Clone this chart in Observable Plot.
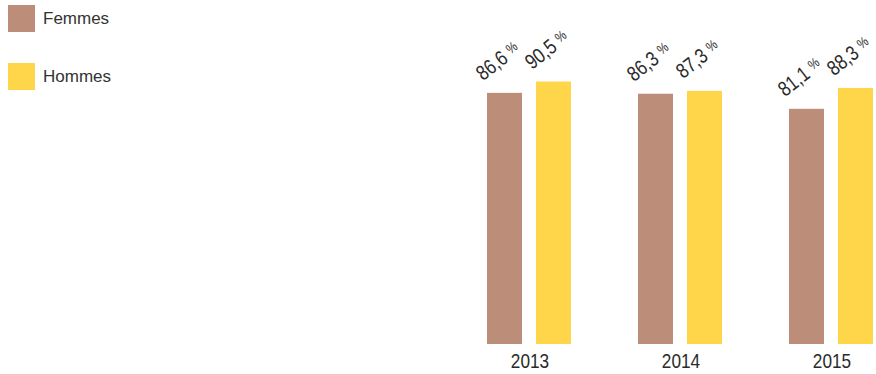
<!DOCTYPE html>
<html><head><meta charset="utf-8">
<script src="https://cdn.jsdelivr.net/npm/d3@7"></script>
<script src="https://cdn.jsdelivr.net/npm/@observablehq/plot@0.6"></script>
<style>
body{margin:0;background:#fff;font-family:"Liberation Sans",Arial,sans-serif;color:#333}
#wrap{position:relative;width:876px;height:374px}
.sw{position:absolute;left:8px;width:27px;height:27px}
.lt{position:absolute;left:43px;font-size:17px;line-height:27px;color:#333}
</style></head>
<body><div id="wrap"></div>
<script>
const years = ["2013", "2014", "2015"];
const groups = ["Femmes", "Hommes"];
const colors = ["#BC8E79", "#FFD54A"];
const femmes = [86.6, 86.3, 81.1];
const hommes = [90.5, 87.3, 88.3];

const font = '"Liberation Sans", Arial, sans-serif';
const fmt = v => v.toFixed(1).replace(".", ",") + " %";
const data = years.flatMap((y, i) => [
  {year: y, group: groups[0], value: femmes[i]},
  {year: y, group: groups[1], value: hommes[i]}
]);

const chart = Plot.plot({
  width: 876, height: 374,
  marginLeft: 486, marginRight: 0, marginTop: 54, marginBottom: 30,
  style: {fontFamily: font, color: "#333", background: "transparent", overflow: "visible"},
  fx: {domain: years, paddingInner: 0.434, paddingOuter: 0, label: null},
  x: {domain: groups, paddingInner: 0.28, paddingOuter: 0, axis: null},
  y: {domain: [0, 100], axis: null},
  color: {domain: groups, range: colors},
  marks: [
    Plot.barY(data, {fx: "year", x: "group", y: "value", fill: "group"}),
    Plot.text(data, {fx: "year", x: "group", y: "value", text: d => fmt(d.value),
      rotate: -38, textAnchor: "start", lineAnchor: "bottom", dx: -22, dy: -12,
      fontSize: 21, fill: "#2a2a2a"}),
    Plot.axisFx({anchor: "bottom", tickSize: 0, tickPadding: 9, fontSize: 21, label: null, fill: "#2a2a2a"})
  ]
});

// condensed look + small raised percent sign
d3.select(chart).selectAll("text").each(function() {
  const sel = d3.select(this);
  const t = this.textContent;
  const tr = sel.attr("transform") || "";
  sel.attr("transform", tr + " scale(0.82,1)");
  if (t.endsWith(" %")) {
    sel.text(null);
    sel.append("tspan").attr("fill", "#2a2a2a").text(t.slice(0, -1));
    sel.append("tspan").attr("fill", "#2a2a2a").attr("font-size", 14).attr("dy", "-0.3em").text("%");
  }
});

const wrap = document.getElementById("wrap");
wrap.appendChild(chart);
const tops = [5, 63];
groups.forEach((g, i) => {
  const s = document.createElement("div");
  s.className = "sw"; s.style.top = tops[i] + "px"; s.style.background = colors[i];
  const l = document.createElement("div");
  l.className = "lt"; l.style.top = tops[i] + "px"; l.textContent = g;
  wrap.appendChild(s); wrap.appendChild(l);
});
</script>
</body></html>
